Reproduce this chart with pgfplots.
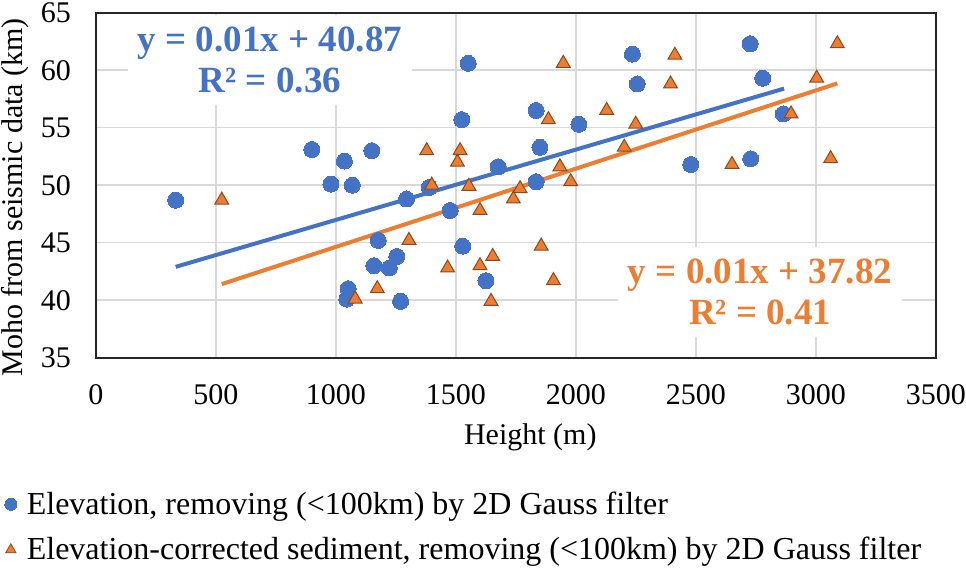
\documentclass[border=0pt]{standalone}
\usepackage{pgfplots}
\pgfplotsset{compat=1.18}
\usepackage{fontspec}
\setmainfont{Liberation Serif}

\definecolor{exblue}{HTML}{4472C4}
\definecolor{exorange}{HTML}{ED7D31}
\definecolor{exedge}{HTML}{8A4A1E}
\definecolor{gridgray}{HTML}{D9D9D9}

\begin{document}
\begin{tikzpicture}
\path[use as bounding box] (-48pt,-106.35pt) rectangle (435pt,178.85pt);
\begin{axis}[
    at={(0,0)}, anchor=south west,
    scale only axis, width=420pt, height=172.5pt,
    xmin=0, xmax=3500, ymin=35, ymax=65,
    xtick={0,500,...,3500}, ytick={35,40,...,65},
    grid=major,
    major grid style={gridgray, line width=0.8pt},
    axis line style={black!85, line width=1.1pt},
    major tick length=0pt,
    tick label style={font=\fontsize{15}{18}\selectfont},
    /pgf/number format/assume math mode=true,
    /pgf/number format/1000 sep={},
    xticklabel style={yshift=-10pt},
    yticklabel style={xshift=-9pt},
    xlabel={Height (m)},
    ylabel={Moho from seismic data (km)},
    every axis x label/.style={at={([yshift=-40pt]axis description cs:0.517,0)}, anchor=center, font=\fontsize{15}{18}\selectfont},
    every axis y label/.style={at={([xshift=-40.5pt]axis description cs:0,0.465)}, rotate=90, anchor=center, font=\fontsize{15}{18}\selectfont},
    legend style={at={(axis description cs:-0.109,-0.381)}, anchor=north west,
        draw=none, fill=none, inner sep=0pt, row sep=8pt, column sep=4pt,
        nodes={inner sep=1pt, font=\fontsize{16}{19}\selectfont},
        legend cell align=left},
]
% trend lines
\addplot[exblue, line width=2pt, forget plot] coordinates {(332,42.9) (2867,58.4)};
\addplot[exorange, line width=2pt, forget plot] coordinates {(524,41.4) (3089,58.85)};

% blue: elevation
\addplot[only marks, mark=*, mark size=4pt, mark options={draw=exblue, fill=exblue, line width=0pt}, forget plot] coordinates {
(332,48.7) (899,53.1) (979,50.1) (1035,52.1) (1068,50.0) (1149,53.0)
(1176,45.2) (1253,43.8) (1158,43.0) (1222,42.8) (1051,41.0) (1045,40.1)
(1269,39.9) (1294,48.8) (1389,49.8) (1476,47.8) (1524,55.7) (1551,60.6)
(1528,44.7) (1625,41.7) (1676,51.6) (1834,56.5) (1850,53.3) (1834,50.3)
(2012,55.3) (2235,61.4) (2255,58.8) (2478,51.8) (2726,62.3) (2728,52.3)
(2778,59.3) (2864,56.2)
};
% orange: sediment corrected
\addplot[only marks, mark=triangle*, mark size=4pt, mark options={draw=exedge, fill=exorange, line width=0.5pt}, forget plot] coordinates {
(524,48.7) (1080,40.1) (1172,41.0) (1304,45.2) (1378,53.0) (1399,50.0)
(1465,42.8) (1517,53.0) (1506,52.0) (1554,49.9) (1600,47.8) (1600,43.0)
(1653,43.8) (1646,39.9) (1739,48.8) (1767,49.7) (1855,44.7) (1885,55.7)
(1906,41.7) (1947,60.6) (1933,51.6) (1978,50.3) (2128,56.5) (2201,53.3)
(2249,55.3) (2394,58.8) (2412,61.3) (2650,51.8) (2896,56.2) (3003,59.3)
(3089,62.3) (3061,52.3)
};

\addlegendimage{only marks, mark=*, mark size=3pt, mark options={draw=exblue, fill=exblue, line width=0pt}}
\addlegendentry{Elevation, removing (<100km) by 2D Gauss filter}
\addlegendimage{only marks, mark=triangle*, mark size=3pt, mark options={draw=exedge, fill=exorange, line width=0.4pt}}
\addlegendentry{Elevation-corrected sediment, removing (<100km) by 2D Gauss filter}

\node[fill=white, align=center, text=exblue, font=\bfseries\fontsize{18.5}{20.5}\selectfont, inner xsep=5pt, inner ysep=6pt] at (axis cs:725,60.85) {y = 0.01x + 40.87\\R² = 0.36};
\node[fill=white, align=center, text=exorange, font=\bfseries\fontsize{18.5}{20.5}\selectfont, inner xsep=5pt, inner ysep=6pt] at (axis cs:2767,40.7) {y = 0.01x + 37.82\\R² = 0.41};
\end{axis}
\end{tikzpicture}
\end{document}
